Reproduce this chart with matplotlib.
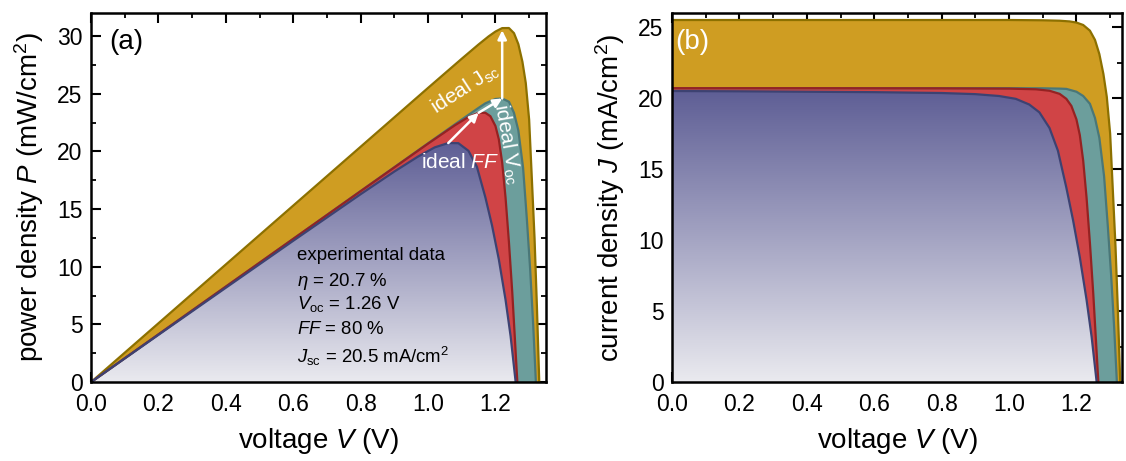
import numpy as np
import matplotlib
matplotlib.use("Agg")
import matplotlib.pyplot as plt
from matplotlib.patches import Polygon
from matplotlib.colors import LinearSegmentedColormap
from matplotlib.ticker import MultipleLocator

plt.rcParams["font.family"] = ["Liberation Sans", "DejaVu Sans"]
plt.rcParams["mathtext.fontset"] = "custom"
plt.rcParams["mathtext.rm"] = "Liberation Sans"
plt.rcParams["mathtext.it"] = "Liberation Sans:italic"
plt.rcParams["mathtext.bf"] = "Liberation Sans:bold"

# J-V curves: voltage (V), current density (mA/cm2)
v_jsc = [0.0, 0.4, 0.8, 1.0, 1.1, 1.15, 1.18, 1.2, 1.22, 1.24, 1.255, 1.268,
         1.28, 1.29, 1.3, 1.308, 1.316, 1.323, 1.33]
j_jsc = [25.5, 25.5, 25.5, 25.5, 25.48, 25.45, 25.4, 25.32, 25.15, 24.75, 24.1,
         23.1, 21.7, 20.1, 17.5, 13.5, 9.5, 5.0, 0.0]

v_voc = [0.0, 0.4, 0.8, 1.0, 1.1, 1.15, 1.17, 1.2, 1.22, 1.24, 1.255, 1.268,
         1.282, 1.293, 1.303, 1.312, 1.32]
j_voc = [20.7, 20.7, 20.7, 20.7, 20.69, 20.67, 20.65, 20.45, 20.15, 19.6, 18.6,
         17.2, 14.5, 11.0, 7.5, 3.8, 0.0]

v_ff = [0.0, 0.4, 0.8, 1.0, 1.08, 1.12, 1.15, 1.17, 1.185, 1.2, 1.21, 1.22,
        1.23, 1.24, 1.25, 1.265]
j_ff = [20.7, 20.7, 20.69, 20.67, 20.62, 20.52, 20.3, 19.95, 19.45, 18.5, 17.4,
        15.6, 13.0, 9.8, 6.2, 0.0]

v_exp = [0.0, 0.2, 0.4, 0.6, 0.8, 0.9, 0.97, 1.02, 1.06, 1.09, 1.12, 1.145,
         1.17, 1.19, 1.21, 1.23, 1.245, 1.26]
j_exp = [20.5, 20.48, 20.45, 20.42, 20.36, 20.28, 20.15, 19.95, 19.55, 19.0,
         17.9, 16.3, 13.7, 11.4, 8.8, 5.8, 3.2, 0.0]

curves = [
    (v_jsc, j_jsc, "#CF9D22", "#8C7000"),
    (v_voc, j_voc, "#6C9E9C", "#4A7778"),
    (v_ff, j_ff, "#D04446", "#952222"),
    (v_exp, j_exp, None, "#3D4272"),
]

blue_grad = LinearSegmentedColormap.from_list(
    "exp", ["#EAEAEF", "#A3A3C2", "#5E5E95"])

fig = plt.figure(figsize=(11.26, 4.61), dpi=100)
ax_p = fig.add_axes([0.0808, 0.171, 0.4041, 0.801])
ax_j = fig.add_axes([0.5968, 0.171, 0.3996, 0.801])


def draw_curves(ax, power):
    for v, j, fill, edge in curves:
        v = np.array(v)
        y = v * np.array(j) if power else np.array(j)
        verts = np.column_stack([np.r_[v, v[0]], np.r_[y, 0.0]])
        if fill is not None:
            ax.add_patch(Polygon(verts, closed=True, facecolor=fill,
                                 edgecolor="none", zorder=2))
        else:
            clip = Polygon(verts, closed=True, facecolor="none",
                           edgecolor="none", zorder=2)
            ax.add_patch(clip)
            grad = np.linspace(1, 0, 256).reshape(-1, 1)
            im = ax.imshow(grad, extent=[0, v.max(), 0, y.max()],
                           aspect="auto", cmap=blue_grad, origin="upper",
                           zorder=2, interpolation="bicubic")
            im.set_clip_path(clip)
        ax.plot(v, y, color=edge, lw=1.6, zorder=3, solid_joinstyle="round")


def style_axis(ax, xmax, ymax, ystep):
    ax.set_xlim(0, xmax)
    ax.set_ylim(0, ymax)
    ax.xaxis.set_major_locator(MultipleLocator(0.2))
    ax.xaxis.set_minor_locator(MultipleLocator(0.1))
    ax.yaxis.set_major_locator(MultipleLocator(ystep))
    ax.yaxis.set_minor_locator(MultipleLocator(ystep / 2))
    ax.tick_params(which="both", direction="in", top=True, right=True,
                   labelsize=16.5, zorder=10)
    ax.tick_params(which="major", length=7, width=1.5)
    ax.tick_params(which="minor", length=3.5, width=1.3)
    ax.tick_params(axis="x", which="major", pad=8)
    ax.tick_params(axis="y", which="major", pad=6)
    for sp in ax.spines.values():
        sp.set_linewidth(1.8)
        sp.set_zorder(10)
    ax.xaxis.set_major_formatter(plt.FuncFormatter(lambda x, _: f"{x:.1f}"))
    ax.set_xlabel("voltage $V$ (V)", fontsize=20, labelpad=7)


draw_curves(ax_p, True)
draw_curves(ax_j, False)
style_axis(ax_p, 1.35, 32, 5)
style_axis(ax_j, 1.335, 26, 5)
ax_p.set_ylabel("power density $P$ (mW/cm$^2$)", fontsize=20, labelpad=8)
ax_j.set_ylabel("current density $J$ (mA/cm$^2$)", fontsize=20, labelpad=8)

ax_p.text(0.04, 0.92, "(a)", transform=ax_p.transAxes, fontsize=20,
          va="center", ha="left", zorder=6)
ax_j.text(0.008, 0.92, "(b)", transform=ax_j.transAxes, fontsize=20,
          va="center", ha="left", color="white", zorder=6)

# arrows between power maxima
p_exp = np.array(v_exp) * np.array(j_exp)
p_ff = np.array(v_ff) * np.array(j_ff)
p_voc = np.array(v_voc) * np.array(j_voc)
p_jsc = np.array(v_jsc) * np.array(j_jsc)
pk_exp = (v_exp[p_exp.argmax()], p_exp.max())
pk_ff = (v_ff[p_ff.argmax()], p_ff.max())
pk_voc = (v_voc[p_voc.argmax()], p_voc.max())
pk_jsc = (pk_voc[0], p_jsc.max() - 0.2)
arrow = dict(arrowstyle="-|>", color="white", lw=1.8, mutation_scale=13,
             shrinkA=0, shrinkB=0)
for start, end in [(pk_exp, pk_ff), (pk_ff, pk_voc), (pk_voc, pk_jsc)]:
    ax_p.annotate("", xy=end, xytext=start, arrowprops=arrow, zorder=5)

ax_p.text(1.11, 25.4, "ideal J$_{\\mathrm{sc}}$", color="white", fontsize=15,
          rotation=33, ha="center", va="center", zorder=6)
ax_p.text(1.235, 20.6, "ideal V$_{\\mathrm{oc}}$", color="white", fontsize=15,
          rotation=-80, ha="center", va="center", zorder=6)
ax_p.text(1.095, 19.0, "ideal $FF$", color="white", fontsize=15,
          ha="center", va="center", zorder=6)

exp_lines = ["experimental data", "$\\eta$ = 20.7 %",
             "$V_{\\mathrm{oc}}$ = 1.26 V", "$FF$ = 80 %",
             "$J_{\\mathrm{sc}}$ = 20.5 mA/cm$^2$"]
exp_y = [11.0, 8.7, 6.8, 4.6, 2.2]
for txt, y in zip(exp_lines, exp_y):
    ax_p.text(0.61, y, txt, fontsize=13.4, ha="left", va="center", zorder=6)

fig.savefig("out.png", dpi=100)
